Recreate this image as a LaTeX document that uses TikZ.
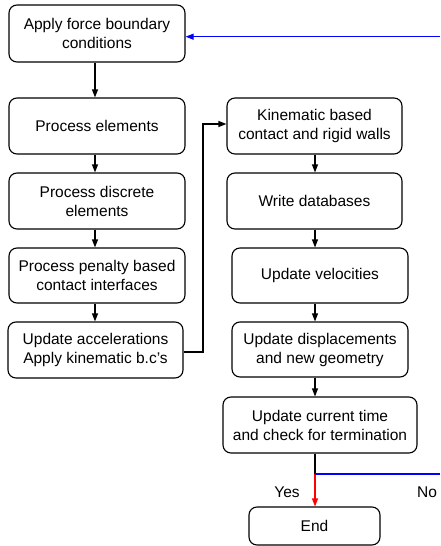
\documentclass[tikz,border=0pt]{standalone}
\usepackage{fontspec}
\setmainfont{Liberation Sans}
\usetikzlibrary{arrows.meta}
\begin{document}
\begin{tikzpicture}[x=1pt,y=-1pt,
  stepbox/.style={draw, line width=1.1pt, rounded corners=8pt, align=center,
    inner sep=0pt, font=\fontsize{15.5}{19}\selectfont},
  arr/.style={line width=1.1pt, -{Triangle[length=8pt,width=6pt]}},
  lbl/.style={font=\fontsize{15.5}{19}\selectfont}]
\useasboundingbox (0,0) rectangle (440,546);

% left column
\node[stepbox, minimum width=176, minimum height=57] (b1) at (97,33.5) {Apply force boundary\\conditions};
\node[stepbox, minimum width=176, minimum height=56] (b2) at (97,126) {Process elements};
\node[stepbox, minimum width=176, minimum height=56] (b3) at (97,201) {Process discrete\\elements};
\node[stepbox, minimum width=176, minimum height=55] (b4) at (97,275.5) {Process penalty based\\contact interfaces};
\node[stepbox, minimum width=175, minimum height=56] (b5) at (95.5,350) {Update accelerations\\Apply kinematic b.c's};

% right column
\node[stepbox, minimum width=175, minimum height=56] (b6) at (314.5,126) {Kinematic based\\contact and rigid walls};
\node[stepbox, minimum width=175, minimum height=56] (b7) at (314.5,201) {Write databases};
\node[stepbox, minimum width=176, minimum height=55] (b8) at (320,275.5) {Update velocities};
\node[stepbox, minimum width=176, minimum height=55] (b9) at (320,349.5) {Update displacements\\and new geometry};
\node[stepbox, minimum width=194, minimum height=56] (b10) at (320,425) {Update current time\\and check for termination};
\node[stepbox, minimum width=131, minimum height=38] (end) at (314.5,526) {End};

\coordinate (lspine) at (95,0);
\coordinate (spine) at (315,0);
\coordinate (jog) at (203,0);
\coordinate (split) at (315,474);
\coordinate (noend) at (440,474);
\coordinate (backin) at (440,36.7);

% left column flow
\draw[arr] (b1.south -| lspine) -- (b2.north -| lspine);
\draw[arr] (b2.south -| lspine) -- (b3.north -| lspine);
\draw[arr] (b3.south -| lspine) -- (b4.north -| lspine);
\draw[arr] (b4.south -| lspine) -- (b5.north -| lspine);

% jump to right column
\draw[arr] ([yshift=-2pt]b5.east) -- ([yshift=-2pt]b5.east -| jog) |- ([yshift=2pt]b6.west);

% right column flow
\draw[arr] (b6.south -| spine) -- (b7.north -| spine);
\draw[arr] (b7.south -| spine) -- (b8.north -| spine);
\draw[arr] (b8.south -| spine) -- (b9.north -| spine);
\draw[arr] (b9.south -| spine) -- (b10.north -| spine);

% termination test
\draw[line width=1.1pt] (b10.south -| spine) -- (split);
\draw[arr, red] (split) -- (end.north -| spine);
\draw[line width=1.1pt, blue] (split) -- (noend);
\draw[arr, blue] (backin) -- (backin -| b1.east);

\node[lbl] (yes) at (287,492) {Yes};
\node[lbl] (no) at (427,492) {No};
\end{tikzpicture}
\end{document}
